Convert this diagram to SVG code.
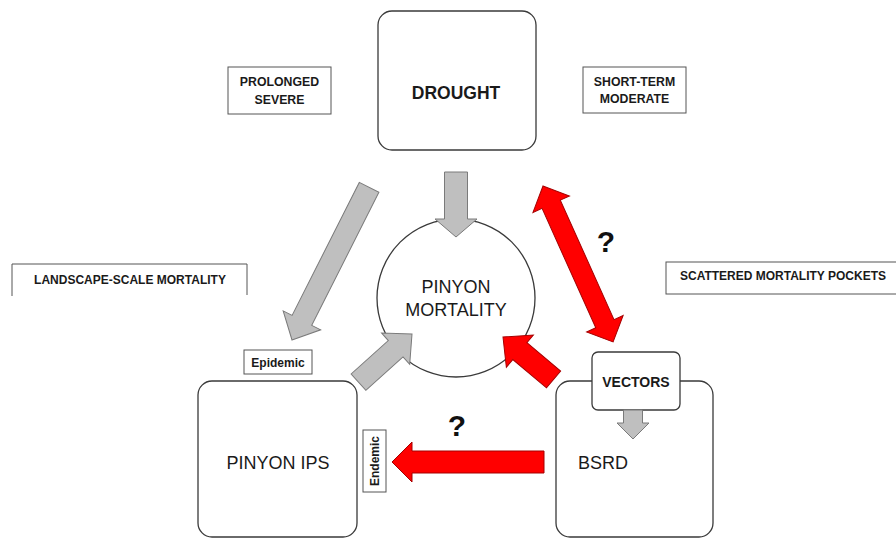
<svg xmlns="http://www.w3.org/2000/svg" width="896" height="538" viewBox="0 0 896 538">
<style>
.node{fill:#fff;stroke:#3a3a3a;stroke-width:1.3}
.lbl{fill:#fff;stroke:#555;stroke-width:1}
.t{font-family:"Liberation Sans",Arial,sans-serif;fill:#1a1a1a;text-anchor:middle}
.b{font-weight:bold}
.gray{fill:#bfbfbf;stroke:#7a7a7a;stroke-width:1}
.red{fill:#ff0000;stroke:#a50000;stroke-width:1}
.q{font-family:"Liberation Sans",Arial,sans-serif;font-weight:bold;font-size:30px;fill:#111;text-anchor:middle}
</style>
<rect width="896" height="538" fill="#fff"/>
<g id="drought">
<rect class="node" x="378" y="11" width="158" height="139" rx="14"/>
<text class="t b" x="456" y="99" font-size="17.5">DROUGHT</text>
</g>
<g id="prolonged">
<rect class="lbl" x="228" y="67" width="103" height="47"/>
<text class="t b" x="279.5" y="86" font-size="12.3">PROLONGED</text>
<text class="t b" x="279.5" y="104" font-size="12.3">SEVERE</text>
</g>
<g id="shortterm">
<rect class="lbl" x="583" y="67" width="103" height="46" stroke="#888"/>
<text class="t b" x="634.5" y="86" font-size="12.3">SHORT-TERM</text>
<text class="t b" x="634.5" y="103" font-size="12.3">MODERATE</text>
</g>
<g id="landscape">
<path d="M12,296 V264 H247 V295" fill="none" stroke="#555" stroke-width="1"/>
<text class="t b" x="130" y="284" font-size="12">LANDSCAPE-SCALE MORTALITY</text>
</g>
<g id="scattered">
<rect class="lbl" x="666" y="262" width="240" height="32" stroke="#777"/>
<text class="t b" x="783" y="280" font-size="12">SCATTERED MORTALITY POCKETS</text>
</g>
<g id="mortality">
<circle class="node" cx="456" cy="298" r="79"/>
<text class="t" x="456" y="293" font-size="18">PINYON</text>
<text class="t" x="456" y="316" font-size="18">MORTALITY</text>
</g>
<g id="ips">
<rect class="node" x="198" y="381" width="159" height="156" rx="14"/>
<text class="t" x="278" y="469" font-size="18">PINYON IPS</text>
</g>
<g id="epidemic">
<rect class="lbl" x="244" y="350" width="68" height="24"/>
<text class="t b" x="278" y="367" font-size="12">Epidemic</text>
</g>
<g id="endemic">
<rect class="lbl" x="363" y="430" width="23" height="62"/>
<text class="t b" transform="translate(379,461) rotate(-90)" x="0" y="0" font-size="12">Endemic</text>
</g>
<g id="bsrd">
<rect class="node" x="556" y="381" width="157" height="156" rx="14"/>
<text class="t" x="603" y="469" font-size="18">BSRD</text>
</g>
<g id="vectors">
<rect class="node" x="592" y="352" width="88" height="58" rx="6"/>
<text class="t b" x="636" y="387" font-size="14">VECTORS</text>
</g>
<g id="connectors">
<polygon class="gray" transform="translate(456,237) rotate(90)" points="0,0 -18,-21 -18,-11.5 -65,-11.5 -65,11.5 -18,11.5 -18,21"/>
<polygon class="gray" transform="translate(292,340) rotate(116.8)" points="0,0 -22,-21 -22,-11 -171,-11 -171,11 -22,11 -22,21"/>
<polygon class="gray" transform="translate(412,334) rotate(-42)" points="0,0 -22,-21 -22,-11 -72,-11 -72,11 -22,11 -22,21"/>
<polygon class="red" transform="translate(503,337) rotate(-140)" points="0,0 -22,-21 -22,-11 -66,-11 -66,11 -22,11 -22,21"/>
<polygon class="gray" transform="translate(633,439) rotate(90)" points="0,0 -16,-16 -16,-9.5 -29,-9.5 -29,9.5 -16,9.5 -16,16"/>
<polygon class="red" transform="translate(392,462) rotate(180)" points="0,0 -20,-20 -20,-11 -152,-11 -152,11 -20,11 -20,20"/>
<polygon class="red" transform="translate(543,186) rotate(65.8)" points="0,0 20,-20 20,-10 151,-10 151,-20 171,0 151,20 151,10 20,10 20,20"/>
<text class="q" x="606" y="252">?</text>
<text class="q" x="457" y="436">?</text>
</g>
</svg>
